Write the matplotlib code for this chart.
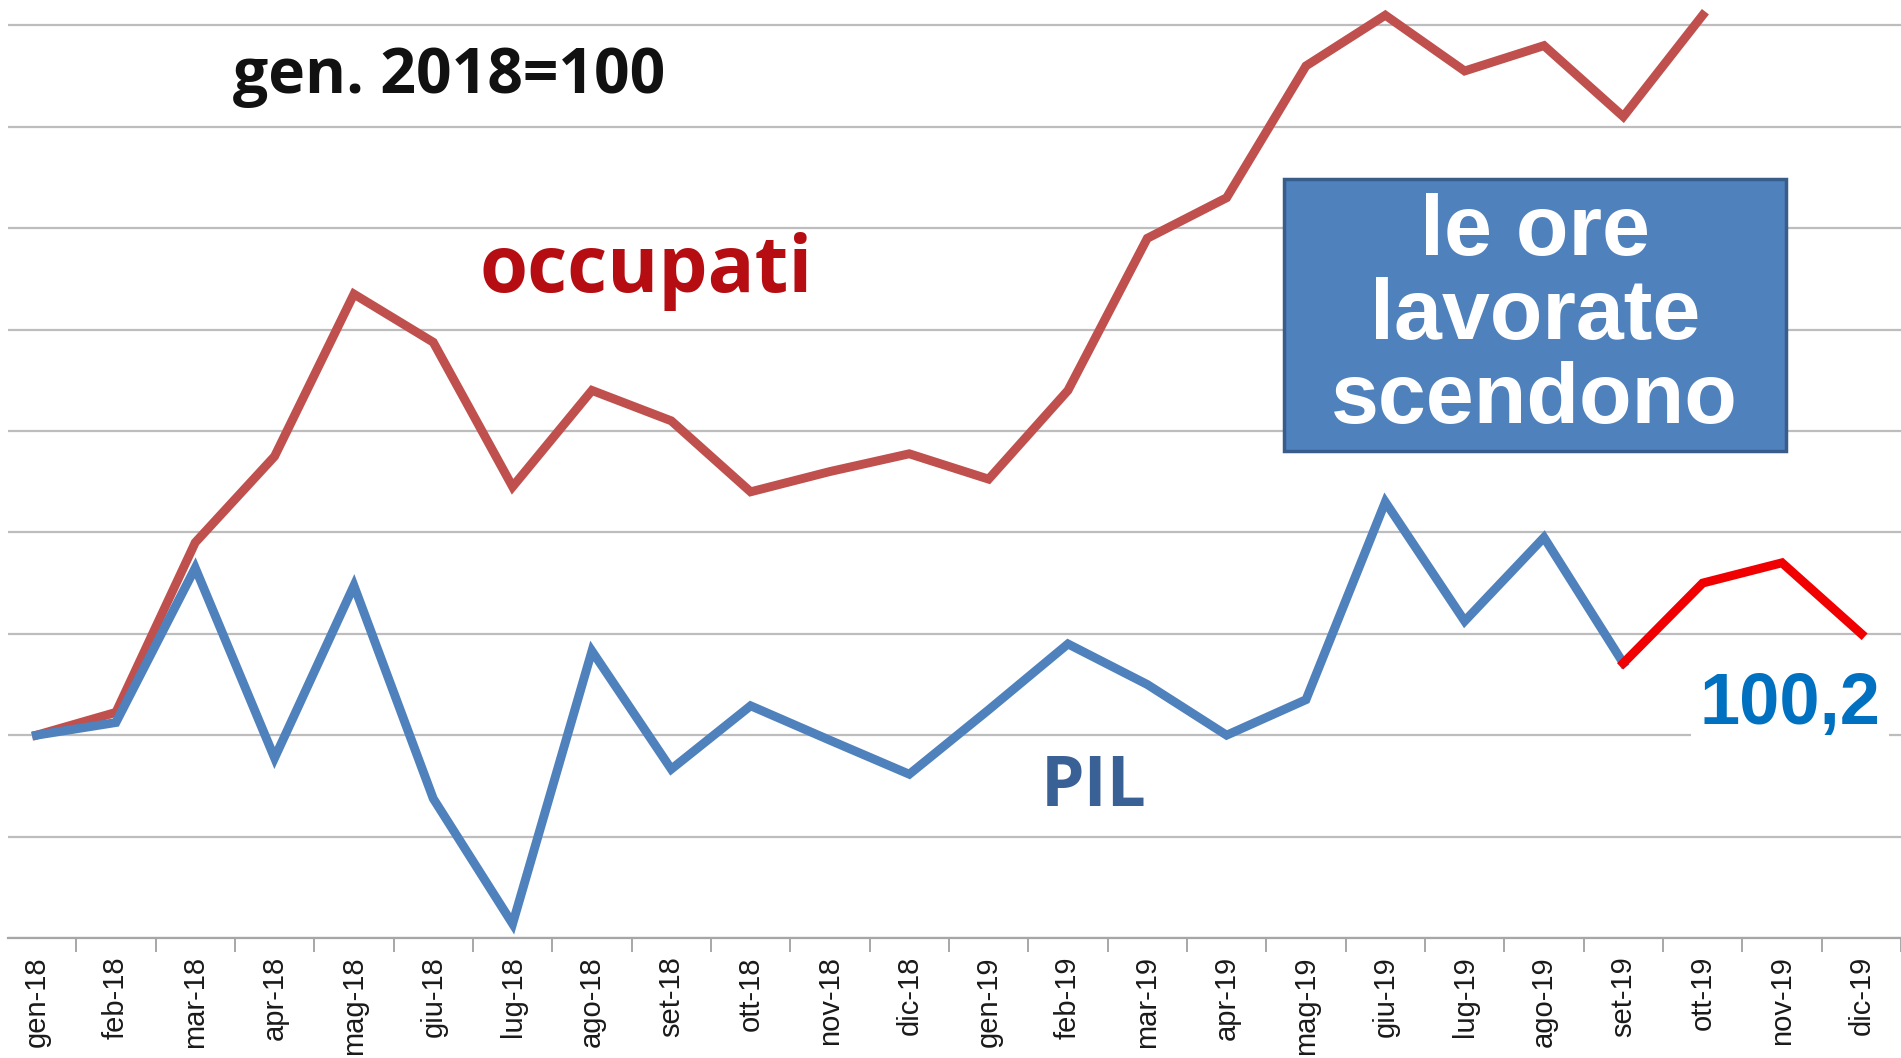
import matplotlib.pyplot as plt
from matplotlib.patches import Rectangle

# month labels (Italian)
months = ['gen-18', 'feb-18', 'mar-18', 'apr-18', 'mag-18', 'giu-18', 'lug-18', 'ago-18',
          'set-18', 'ott-18', 'nov-18', 'dic-18', 'gen-19', 'feb-19', 'mar-19', 'apr-19',
          'mag-19', 'giu-19', 'lug-19', 'ago-19', 'set-19', 'ott-19', 'nov-19', 'dic-19']

# index gen. 2018 = 100
occupati = [100.0, 100.045, 100.38, 100.55, 100.87, 100.775, 100.49, 100.68, 100.62, 100.48,
            100.52, 100.555, 100.505, 100.68, 100.98, 101.06, 101.32, 101.42, 101.31, 101.36,
            101.22, 101.42]
pil = [100.0, 100.025, 100.33, 99.955, 100.295, 99.875, 99.628, 100.166, 99.933, 100.058,
       99.99, 99.923, 100.05, 100.18, 100.10, 100.0, 100.07, 100.46, 100.225, 100.39, 100.142]
# estimate for the last quarter (ott-19 .. dic-19)
pil_stima = [100.30, 100.34, 100.2]

fig = plt.figure(figsize=(19.01, 10.58), dpi=100)
ax = fig.add_axes([8 / 1901, 120 / 1058, 1 - 8 / 1901, 938 / 1058])

x_occ = list(range(len(occupati)))
x_pil = list(range(len(pil)))
x_stima = list(range(len(pil) - 1, len(pil) + len(pil_stima)))

ax.plot(x_occ, occupati, color='#C0504D', lw=6.4, solid_joinstyle='miter', zorder=3)
ax.plot(x_pil, pil, color='#4F81BD', lw=6.4, solid_joinstyle='miter', zorder=3)
ax.plot(x_stima, [pil[-1]] + pil_stima, color='#F00000', lw=6.4, solid_joinstyle='miter', zorder=3)

ax.set_xlim(-0.36, 23.49)
ax.set_ylim(99.6, 101.45)

# horizontal grid every 0.2
ax.set_yticks([99.6 + 0.2 * k for k in range(10)])
ax.tick_params(axis='y', left=False, labelleft=False)
ax.grid(axis='y', color='#BDBDBD', lw=1.6)
ax.set_axisbelow(True)

ax.set_xticks(range(len(months)))
ax.set_xticklabels(months, rotation=90, fontsize=21, color='#1A1A1A', family='Liberation Sans')
ax.set_xticks([i + 0.5 for i in range(len(months))], minor=True)
ax.tick_params(axis='x', which='major', length=0, pad=13)
ax.tick_params(axis='x', which='minor', length=10, width=1.3, color='#A0A0A0')

for side in ['left', 'right', 'top']:
    ax.spines[side].set_visible(False)
ax.spines['bottom'].set_color('#A6A6A6')
ax.spines['bottom'].set_linewidth(1.6)

ax.text(5.2, 101.30, 'gen. 2018=100', fontsize=45, fontweight='bold', family='Open Sans',
        ha='center', va='center', color='#111111')
ax.text(7.68, 100.915, 'occupati', fontsize=56, fontweight='bold', family='Open Sans',
        ha='center', va='center', color='#B50D12')
ax.text(13.33, 99.895, 'PIL', fontsize=50, fontweight='bold', family='Open Sans',
        ha='center', va='center', color='#3A6195')
ax.text(22.1, 100.06, '100,2', fontsize=52, fontweight='bold', family='Liberation Sans',
        ha='center', va='center', color='#0070C0',
        bbox=dict(fc='white', ec='none', pad=6), zorder=4)

box = Rectangle((15.72, 100.56), 6.33, 0.537, fc='#4F81BD', ec='#385D8A', lw=2.5, zorder=5)
ax.add_patch(box)
ax.text(18.885, 100.825, 'le ore\nlavorate\nscendono', fontsize=62, fontweight='bold',
        family='Liberation Sans', ha='center', va='center', color='white',
        linespacing=1.06, zorder=6)

fig.savefig('out.png', dpi=100)
